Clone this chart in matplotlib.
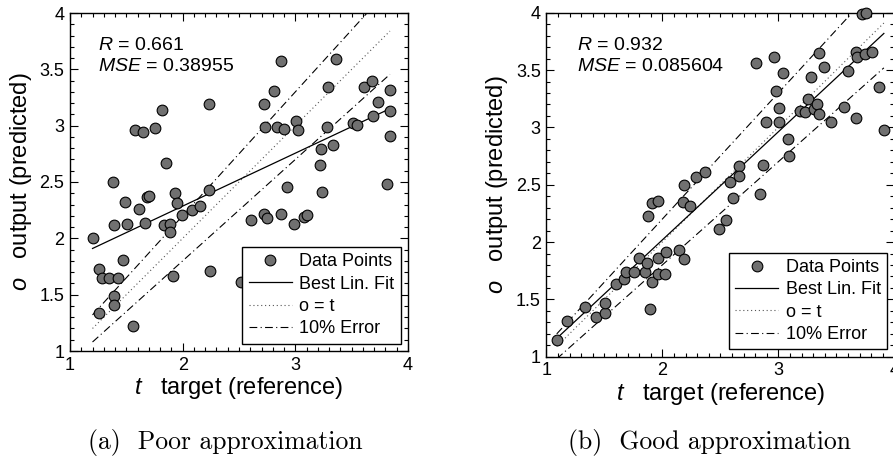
import numpy as np
import matplotlib
matplotlib.use("Agg")
import matplotlib.pyplot as plt
from matplotlib.ticker import MultipleLocator, FormatStrFormatter

plt.rcParams['font.family'] = ['Liberation Sans', 'DejaVu Sans']
plt.rcParams['mathtext.fontset'] = 'custom'
plt.rcParams['mathtext.it'] = 'Liberation Sans:italic'
plt.rcParams['mathtext.rm'] = 'Liberation Sans'

# (a) poor approximation: target t, output o
t_poor = [1.20, 1.26, 1.28, 1.35, 1.43, 1.47, 1.39, 1.39, 1.26, 1.56,
          1.38, 1.39, 1.49, 1.51, 1.61, 1.67, 1.68, 1.70, 1.58, 1.65,
          1.75, 1.82, 1.85, 1.83, 1.89, 1.89, 1.91, 1.93, 1.95, 1.99,
          2.08, 2.15, 2.23, 2.23, 2.24, 2.52, 2.61, 2.72, 2.75, 2.87,
          2.99, 3.08, 3.10, 2.72, 2.73, 2.81, 2.87, 2.84, 2.90, 3.01,
          3.02, 2.93, 3.22, 3.23, 3.24, 3.28, 3.29, 3.33, 3.36, 3.51,
          3.55, 3.61, 3.68, 3.69, 3.73, 3.81, 3.84, 3.84, 3.84]
o_poor = [2.00, 1.73, 1.65, 1.65, 1.65, 1.81, 1.49, 1.41, 1.34, 1.22,
          2.50, 2.12, 2.32, 2.13, 2.26, 2.14, 2.37, 2.38, 2.96, 2.94,
          2.98, 3.14, 2.67, 2.12, 2.13, 2.06, 1.67, 2.40, 2.31, 2.21,
          2.25, 2.29, 2.43, 3.19, 1.71, 1.61, 2.16, 2.22, 2.18, 2.22,
          2.13, 2.19, 2.21, 3.19, 2.99, 3.31, 3.57, 2.99, 2.97, 3.04,
          2.96, 2.46, 2.65, 2.79, 2.41, 2.99, 3.34, 2.83, 3.59, 3.02,
          3.01, 3.34, 3.40, 3.09, 3.21, 2.48, 3.13, 3.32, 2.91]

# (b) good approximation
t_good = [1.09, 1.18, 1.33, 1.43, 1.51, 1.51, 1.60, 1.67, 1.69, 1.76,
          1.80, 1.85, 1.87, 1.89, 1.91, 1.96, 1.96, 2.02, 2.03, 2.14,
          2.19, 1.88, 1.91, 1.96, 2.18, 2.24, 2.19, 2.29, 2.37, 2.49,
          2.55, 2.58, 2.61, 2.66, 2.66, 2.84, 2.87, 2.81, 2.96, 2.89,
          3.01, 3.01, 2.98, 3.04, 3.08, 3.09, 3.19, 3.23, 3.26, 3.28,
          3.31, 3.33, 3.35, 3.35, 3.39, 3.45, 3.57, 3.60, 3.67, 3.67,
          3.68, 3.72, 3.76, 3.75, 3.81, 3.87, 3.91]
o_good = [1.15, 1.31, 1.43, 1.35, 1.38, 1.47, 1.63, 1.68, 1.74, 1.74,
          1.86, 1.74, 1.82, 1.42, 1.65, 1.86, 1.72, 1.72, 1.91, 1.93,
          1.85, 2.23, 2.34, 2.36, 2.35, 2.31, 2.50, 2.57, 2.61, 2.11,
          2.19, 2.52, 2.38, 2.66, 2.58, 2.42, 2.67, 3.56, 3.61, 3.05,
          3.05, 3.17, 3.32, 3.47, 2.90, 2.75, 3.14, 3.13, 3.25, 3.44,
          3.16, 3.20, 3.12, 3.65, 3.53, 3.05, 3.18, 3.49, 3.08, 3.66,
          3.61, 3.99, 4.00, 3.64, 3.66, 3.35, 2.98]

# best linear fit (slope, intercept) and stats as printed on the chart
fit_poor = (0.47, 1.346)
fit_good = (0.943, 0.132)
stats_poor = ("0.661", "0.38955")
stats_good = ("0.932", "0.085604")
captions = ["(a)  Poor approximation", "(b)  Good approximation"]

fig = plt.figure(figsize=(8.93, 4.59), dpi=100)


def panel(rect, t, o, fit, stats, text_pos):
    ax = fig.add_axes(rect)
    t = np.asarray(t)
    tt = np.array([t.min(), t.max()])
    ax.plot(tt, 1.1 * tt, color='black', lw=0.8, ls=(0, (7, 3, 1, 3)),
            label='10% Error', zorder=1)
    ax.plot(tt, 0.9 * tt, color='black', lw=0.8, ls=(0, (7, 3, 1, 3)), zorder=1)
    ax.plot(tt, tt, color='#555555', lw=0.8, ls=(0, (1, 2.5)),
            label='o = t', zorder=1)
    ax.plot(tt, fit[0] * tt + fit[1], color='black', lw=0.9,
            label='Best Lin. Fit', zorder=2)
    ax.plot(t, o, 'o', ms=7.7, mfc='#707070', mec='black', mew=0.8,
            label='Data Points', zorder=3, clip_on=False)

    ax.set_xlim(1, 4)
    ax.set_ylim(1, 4)
    ax.xaxis.set_major_locator(MultipleLocator(1))
    ax.xaxis.set_minor_locator(MultipleLocator(0.1))
    ax.yaxis.set_major_locator(MultipleLocator(0.5))
    ax.yaxis.set_minor_locator(MultipleLocator(0.1))
    ax.yaxis.set_major_formatter(FormatStrFormatter('%g'))
    ax.xaxis.set_major_formatter(FormatStrFormatter('%g'))
    ax.tick_params(which='both', direction='in', top=True, right=True,
                   labelsize=13, width=0.8)
    ax.tick_params(which='major', length=6, pad=4)
    ax.tick_params(which='minor', length=3)
    for s in ax.spines.values():
        s.set_linewidth(1.0)

    ax.set_xlabel(r'$t$   target (reference)', fontsize=17, labelpad=1)
    ax.set_ylabel(r'$o$   output (predicted)', fontsize=17, labelpad=4)

    ax.text(text_pos[0], text_pos[1],
            r'$R$ = ' + stats[0] + '\n' + r'$MSE$ = ' + stats[1],
            transform=ax.transAxes, fontsize=14, va='top', ha='left',
            linespacing=1.3)

    h, l = ax.get_legend_handles_labels()
    order = ['Data Points', 'Best Lin. Fit', 'o = t', '10% Error']
    hd = dict(zip(l, h))
    leg = ax.legend([hd[k] for k in order], order, loc='lower right',
                    fontsize=13, fancybox=False, framealpha=1,
                    edgecolor='black', handlelength=2.4, handletextpad=0.4,
                    borderpad=0.35, labelspacing=0.3, borderaxespad=0.4)
    leg.get_frame().set_linewidth(1.0)
    return ax


ax1 = panel([70 / 893, 1 - 351 / 459, 338 / 893, 338 / 459],
            t_poor, o_poor, fit_poor, stats_poor, (0.083, 0.93))
ax2 = panel([546.3 / 893, 1 - 356.7 / 459, 348 / 893, 344 / 459],
            t_good, o_good, fit_good, stats_good, (0.087, 0.93))

fig.text(225 / 893, 1 - 442 / 459, captions[0], fontsize=18.5,
         family='cmr10', ha='center', va='center')
fig.text(709 / 893, 1 - 442 / 459, captions[1], fontsize=18.5,
         family='cmr10', ha='center', va='center')

fig.savefig('out.png', dpi=100)
